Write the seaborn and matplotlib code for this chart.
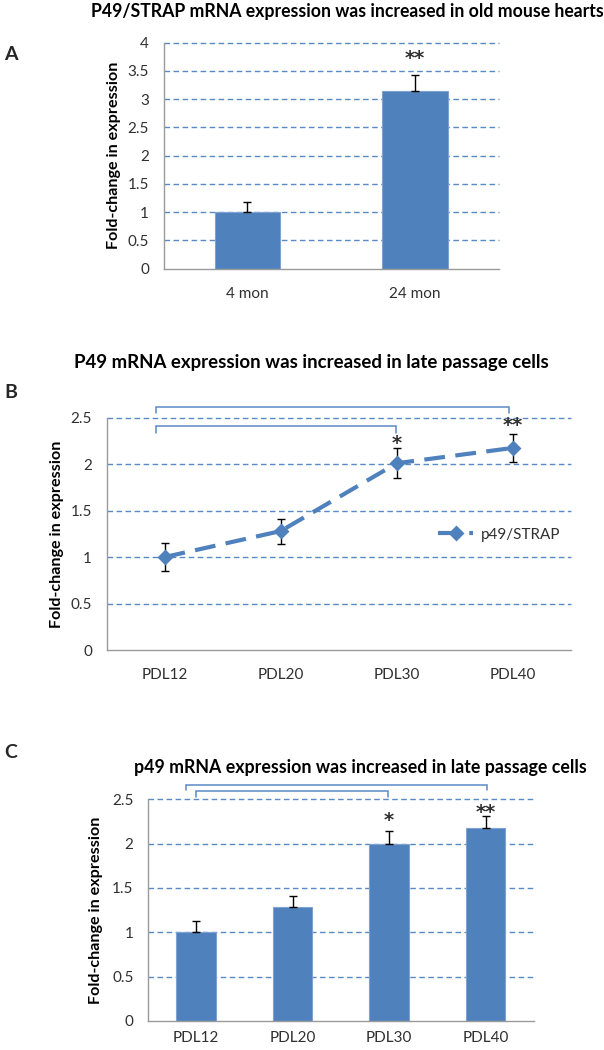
import matplotlib
matplotlib.use("Agg")
import matplotlib.pyplot as plt
import seaborn as sns
import numpy as np

# Panel A: mouse hearts
age_groups = ["4 mon", "24 mon"]
age_fold = [1.0, 3.14]
age_err = [0.18, 0.29]
age_stars = ["", "**"]
age_star_y = [0, 3.82]

# Panels B and C: cell passages
passages = ["PDL12", "PDL20", "PDL30", "PDL40"]
pdl_fold_line = [1.0, 1.28, 2.01, 2.175]
pdl_err_line = [0.15, 0.135, 0.16, 0.15]
pdl_fold_bar = [1.0, 1.28, 2.0, 2.18]
pdl_err_bar = [0.13, 0.13, 0.145, 0.13]
pdl_stars = ["", "", "*", "**"]
line_star_y = [0, 0, 2.28, 2.475]
bar_star_y = [0, 0, 2.32, 2.42]

# significance brackets: (from category, to category, bar height, leg bottom)
brackets_b = [(-0.075, 2.97, 2.61, 2.55), (-0.075, 1.99, 2.41, 2.34)]
brackets_c = [(-0.11, 3.01, 2.66, 2.60), (0.0, 1.985, 2.595, 2.525)]

BLUE = "#4F81BD"
GRID = "#5A8AC6"
SPINE = "#9A9A9A"
TXT = "#303030"

sns.set_style("white")
plt.rcParams["font.family"] = ["Lato", "DejaVu Sans"]

W, H = 604, 1050
fig = plt.figure(figsize=(W / 100, H / 100), dpi=100)
renderer = fig.canvas.get_renderer()


def fit_width(txt, target_px, vertical=False):
    # scale the font so the text spans roughly the same pixels as in the original
    bb = txt.get_window_extent(renderer)
    size = bb.height if vertical else bb.width
    txt.set_fontsize(txt.get_fontsize() * target_px / size)


def px_axes(left, right, top, bottom):
    return fig.add_axes([left / W, 1 - bottom / H, (right - left) / W, (bottom - top) / H])


def style_axes(ax, ymax, ncat, xpad=13):
    ax.set_xlim(-0.5, ncat - 0.5)
    ax.set_ylim(0, ymax)
    ax.set_yticks(np.arange(0, ymax + 0.01, 0.5))
    ax.set_yticklabels([f"{v:g}" for v in np.arange(0, ymax + 0.01, 0.5)])
    for v in ax.get_yticks()[1:]:
        ax.axhline(v, color=GRID, lw=1.0, ls=(0, (4, 2.5)), clip_on=False, zorder=0)
    for s in ["top", "right"]:
        ax.spines[s].set_visible(False)
    for s in ["left", "bottom"]:
        ax.spines[s].set_color(SPINE)
        ax.spines[s].set_linewidth(1.0)
    ax.set_xticks(np.arange(-0.5, ncat, 1.0), minor=True)
    ax.tick_params(axis="x", which="major", length=0, pad=xpad, labelsize=11, labelcolor=TXT)
    ax.tick_params(axis="x", which="minor", length=6, color=SPINE, width=1, direction="out")
    ax.tick_params(axis="y", length=4, color=SPINE, width=1, direction="out", pad=6.5,
                   labelsize=11, labelcolor=TXT)
    ax.set_xlabel("")
    ax.set_ylabel("Fold-change in expression", fontsize=11, fontweight="bold", color="black")
    fit_width(ax.yaxis.label, 187, vertical=True)


def draw_brackets(ax, brackets):
    for x0, x1, ytop, ybot in brackets:
        ax.plot([x0, x0, x1, x1], [ybot, ytop, ytop, ybot], color=GRID, lw=1.1,
                clip_on=False, solid_joinstyle="miter")


def draw_stars(ax, stars, ys):
    for x, (s, y) in enumerate(zip(stars, ys)):
        if s:
            ax.annotate(s, (x, y), xytext=(0, -8), textcoords="offset points",
                        ha="center", va="baseline", fontsize=14, fontweight="bold",
                        family="DejaVu Sans", color=TXT)


def title(x, y, s, width):
    t = fig.text(x / W, 1 - y / H, s, ha="center", va="center", fontsize=12,
                 fontweight="bold", color="black")
    fit_width(t, width)


# ---------------- Panel A ----------------
axA = px_axes(163.5, 499, 42.7, 268.7)
sns.barplot(x=age_groups, y=age_fold, color=BLUE, saturation=1, width=0.39,
            edgecolor="#7EA3D3", linewidth=0.8, ax=axA, zorder=2)
xa = np.arange(len(age_groups))
axA.errorbar(xa, age_fold, yerr=[np.zeros(len(age_err)), age_err], fmt="none",
             ecolor="black", elinewidth=1, capsize=3, capthick=1, zorder=3)
style_axes(axA, 4, len(age_groups))
axA.yaxis.set_label_coords(-0.127, 0.5)
draw_stars(axA, age_stars, age_star_y)
title(347, 11, "P49/STRAP mRNA expression was increased in old mouse hearts", 510)
fig.text(4 / W, 1 - 54 / H, "A", ha="left", va="center", fontsize=14, fontweight="bold")

# ---------------- Panel B ----------------
axB = px_axes(106.5, 571, 417.7, 650)
sns.pointplot(x=passages, y=pdl_fold_line, color=BLUE, markers="D", linestyles="--",
              errorbar=None, label="p49/STRAP", ax=axB, zorder=3)
xb = np.arange(len(passages))
axB.errorbar(xb, pdl_fold_line, yerr=pdl_err_line, fmt="none", ecolor="black",
             elinewidth=1, capsize=3, capthick=1, zorder=2)
for ln in axB.lines:
    if ln.get_marker() == "D":
        ln.set_linewidth(3.0)
        ln.set_dashes([5, 2.5])
        ln.set_markersize(6)
style_axes(axB, 2.5, len(passages))
axB.yaxis.set_label_coords(-0.0915, 0.5)
draw_brackets(axB, brackets_b)
draw_stars(axB, pdl_stars, line_star_y)
leg = axB.legend(loc="center right", bbox_to_anchor=(1.0, 1.24 / 2.5), frameon=False,
                 fontsize=11, handlelength=2.3, handletextpad=0.5, borderaxespad=0.3)
for t in leg.get_texts():
    t.set_color(TXT)
title(311, 362, "P49 mRNA expression was increased in late passage cells", 470)
fig.text(4 / W, 1 - 393 / H, "B", ha="left", va="center", fontsize=14, fontweight="bold")

# ---------------- Panel C ----------------
axC = px_axes(148, 533.8, 799.3, 1021)
sns.barplot(x=passages, y=pdl_fold_bar, color=BLUE, saturation=1, width=0.41,
            edgecolor="#7EA3D3", linewidth=0.8, ax=axC, zorder=2)
axC.errorbar(xb, pdl_fold_bar, yerr=[np.zeros(len(pdl_err_bar)), pdl_err_bar], fmt="none",
             ecolor="black", elinewidth=1, capsize=3, capthick=1, zorder=3)
style_axes(axC, 2.5, len(passages), xpad=7)
axC.yaxis.set_label_coords(-0.117, 0.5)
draw_brackets(axC, brackets_c)
draw_stars(axC, pdl_stars, bar_star_y)
title(360, 768, "p49 mRNA expression was increased in late passage cells", 448)
fig.text(4 / W, 1 - 752 / H, "C", ha="left", va="center", fontsize=14, fontweight="bold")

fig.savefig("out.png", dpi=100, facecolor="white")
